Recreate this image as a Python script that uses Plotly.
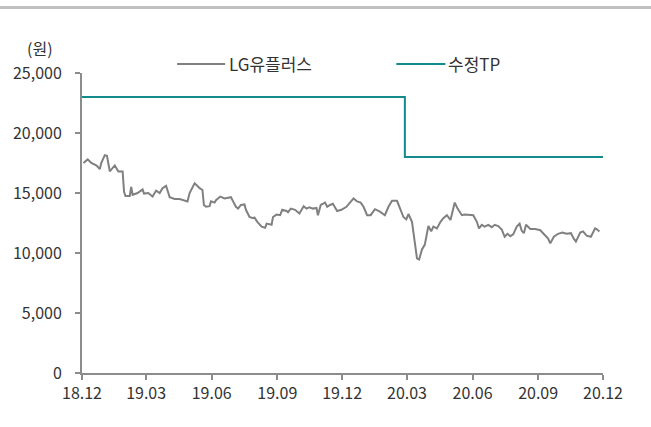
import plotly.graph_objects as go

price_dates = [
    "2018-12-03", "2018-12-09", "2018-12-14", "2018-12-21", "2018-12-26", "2018-12-28",
    "2019-01-02", "2019-01-05", "2019-01-09", "2019-01-16", "2019-01-21", "2019-01-27",
    "2019-01-29", "2019-01-31", "2019-02-06", "2019-02-08", "2019-02-10", "2019-02-17",
    "2019-02-24", "2019-02-26", "2019-03-04", "2019-03-10", "2019-03-15", "2019-03-20",
    "2019-03-24", "2019-03-29", "2019-04-03", "2019-04-10", "2019-04-17", "2019-04-24",
    "2019-04-28", "2019-05-01", "2019-05-08", "2019-05-11", "2019-05-15", "2019-05-19",
    "2019-05-21", "2019-05-24", "2019-05-29", "2019-05-31", "2019-06-05", "2019-06-07",
    "2019-06-13", "2019-06-19", "2019-06-28", "2019-07-01", "2019-07-05", "2019-07-08",
    "2019-07-12", "2019-07-17", "2019-07-19", "2019-07-24", "2019-07-29", "2019-07-31",
    "2019-08-04", "2019-08-10", "2019-08-15", "2019-08-17", "2019-08-24", "2019-08-26",
    "2019-08-31", "2019-09-05", "2019-09-08", "2019-09-14", "2019-09-16", "2019-09-20",
    "2019-09-26", "2019-10-02", "2019-10-08", "2019-10-12", "2019-10-16", "2019-10-21",
    "2019-10-26", "2019-10-28", "2019-11-01", "2019-11-07", "2019-11-10", "2019-11-14",
    "2019-11-18", "2019-11-24", "2019-11-30", "2019-12-07", "2019-12-12", "2019-12-17",
    "2019-12-22", "2019-12-27", "2019-12-31", "2020-01-05", "2020-01-10", "2020-01-16",
    "2020-01-23", "2020-01-30", "2020-02-04", "2020-02-09", "2020-02-16", "2020-02-20",
    "2020-02-25", "2020-02-29", "2020-03-03", "2020-03-08", "2020-03-10", "2020-03-12",
    "2020-03-15", "2020-03-18", "2020-03-22", "2020-03-26", "2020-03-28", "2020-03-31",
    "2020-04-04", "2020-04-07", "2020-04-12", "2020-04-17", "2020-04-21", "2020-04-26",
    "2020-05-01", "2020-05-05", "2020-05-07", "2020-05-11", "2020-05-17", "2020-05-21",
    "2020-05-28", "2020-06-02", "2020-06-07", "2020-06-10", "2020-06-14", "2020-06-18",
    "2020-06-23", "2020-06-28", "2020-07-02", "2020-07-07", "2020-07-12", "2020-07-16",
    "2020-07-20", "2020-07-24", "2020-07-28", "2020-08-02", "2020-08-06", "2020-08-09",
    "2020-08-12", "2020-08-15", "2020-08-21", "2020-08-28", "2020-09-04", "2020-09-09",
    "2020-09-15", "2020-09-18", "2020-09-23", "2020-09-29", "2020-10-05", "2020-10-11",
    "2020-10-17", "2020-10-21", "2020-10-24", "2020-10-30", "2020-11-03", "2020-11-08",
    "2020-11-14", "2020-11-20", "2020-11-22", "2020-11-26",
]
price_values = [
    17500, 17800, 17500, 17300, 17000, 17500,
    18150, 18100, 16800, 17300, 16800, 16800,
    15100, 14750, 14750, 15500, 14850, 15000,
    15300, 14950, 15000, 14700, 15200, 15000,
    15400, 15600, 14650, 14500, 14500, 14400,
    14300, 15000, 15800, 15650, 15400, 15250,
    14000, 13850, 13900, 14300, 14200, 14400,
    14700, 14550, 14650, 14300, 13850, 13700,
    14000, 14050, 13600, 13000, 12900, 12950,
    12600, 12200, 12100, 12450, 12350, 13000,
    13200, 13150, 13600, 13500, 13400, 13700,
    13600, 13300, 13900, 13700, 13800, 13700,
    13750, 13150, 14000, 14200, 13850, 14000,
    14100, 13500, 13600, 13850, 14200, 14550,
    14300, 14200, 13850, 13150, 13150, 13650,
    13450, 13150, 13850, 14350, 14350, 13700,
    13000, 12800, 13250, 12600, 11650, 11100,
    9550, 9450, 10300, 10700, 11350, 12250,
    11800, 12200, 12050, 12600, 12900, 13150,
    12750, 13600, 14200, 13700, 13150, 13200,
    13200, 13150, 12600, 12050, 12350, 12200,
    12350, 12150, 12350, 12250, 11950, 11350,
    11600, 11400, 11550, 12200, 12450, 11850,
    11650, 12350, 12000, 12000, 11900, 11600,
    11200, 10800, 11350, 11600, 11700, 11600,
    11650, 11200, 10950, 11700, 11800, 11450,
    11350, 12050, 12000, 11800,
]

tp_dates = ["2018-12-01", "2020-02-27", "2020-12-01"]
tp_values = [23000, 18000, 18000]

tick_dates = ["2018-12-01", "2019-03-01", "2019-06-01", "2019-09-01", "2019-12-01",
              "2020-03-01", "2020-06-01", "2020-09-01", "2020-12-01"]
tick_labels = ["18.12", "19.03", "19.06", "19.09", "19.12",
               "20.03", "20.06", "20.09", "20.12"]

series_names = ["LG유플러스", "수정TP"]
series_colors = ["#808080", "#138a8c"]

FONT = "Noto Sans CJK KR"
AXIS = "#8c8c8c"
TEXT = "#333333"

fig = go.Figure()
fig.add_trace(go.Scatter(
    x=price_dates, y=price_values, name=series_names[0], mode="lines",
    line=dict(color=series_colors[0], width=2), showlegend=False,
))
fig.add_trace(go.Scatter(
    x=tp_dates, y=tp_values, name=series_names[1], mode="lines",
    line=dict(color=series_colors[1], width=2, shape="hv"), showlegend=False,
))

# manual legend (line sample + label), positioned in paper coordinates
legend_line_x = [(0.1825, 0.2747), (0.6033, 0.6974)]
legend_text_x = [0.279, 0.698]
LEG_Y = 1.03
shapes = [dict(type="line", xref="paper", yref="paper", x0=-0.2, x1=1.2,
               y0=1.2183, y1=1.2183, line=dict(color="#c0c0c0", width=3))]
annotations = [dict(text="(원)", xref="paper", yref="paper", x=-0.0807, y=1.083,
                    showarrow=False, xanchor="center", yanchor="middle",
                    font=dict(size=16, color=TEXT))]
for (x0, x1), tx, name, col in zip(legend_line_x, legend_text_x, series_names, series_colors):
    shapes.append(dict(type="line", xref="paper", yref="paper", x0=x0, x1=x1,
                       y0=LEG_Y, y1=LEG_Y, line=dict(color=col, width=2)))
    annotations.append(dict(text=name, xref="paper", yref="paper", x=tx, y=LEG_Y,
                            showarrow=False, xanchor="left", yanchor="middle",
                            font=dict(size=17, color=TEXT)))

fig.update_layout(
    width=651, height=427,
    margin=dict(l=82, r=48, t=73, b=54, autoexpand=False),
    paper_bgcolor="white", plot_bgcolor="white",
    font=dict(family=FONT, size=16, color=TEXT),
    showlegend=False,
    xaxis=dict(
        type="date", range=["2018-12-01", "2020-12-01"],
        tickvals=tick_dates, ticktext=tick_labels,
        showgrid=False, zeroline=False,
        showline=True, linecolor=AXIS, linewidth=2,
        ticks="outside", ticklen=5, tickcolor=AXIS, tickwidth=2,
    ),
    yaxis=dict(
        range=[0, 25000], dtick=5000, tickformat=",",
        showgrid=False, zeroline=False,
        showline=True, linecolor=AXIS, linewidth=2,
        ticks="outside", ticklen=5, tickcolor=AXIS, tickwidth=2,
        ticklabelstandoff=10,
    ),
    annotations=annotations,
    shapes=shapes,
)

fig.write_html("out.html", config={"displayModeBar": False},
               post_script="document.body.style.margin='0';")
